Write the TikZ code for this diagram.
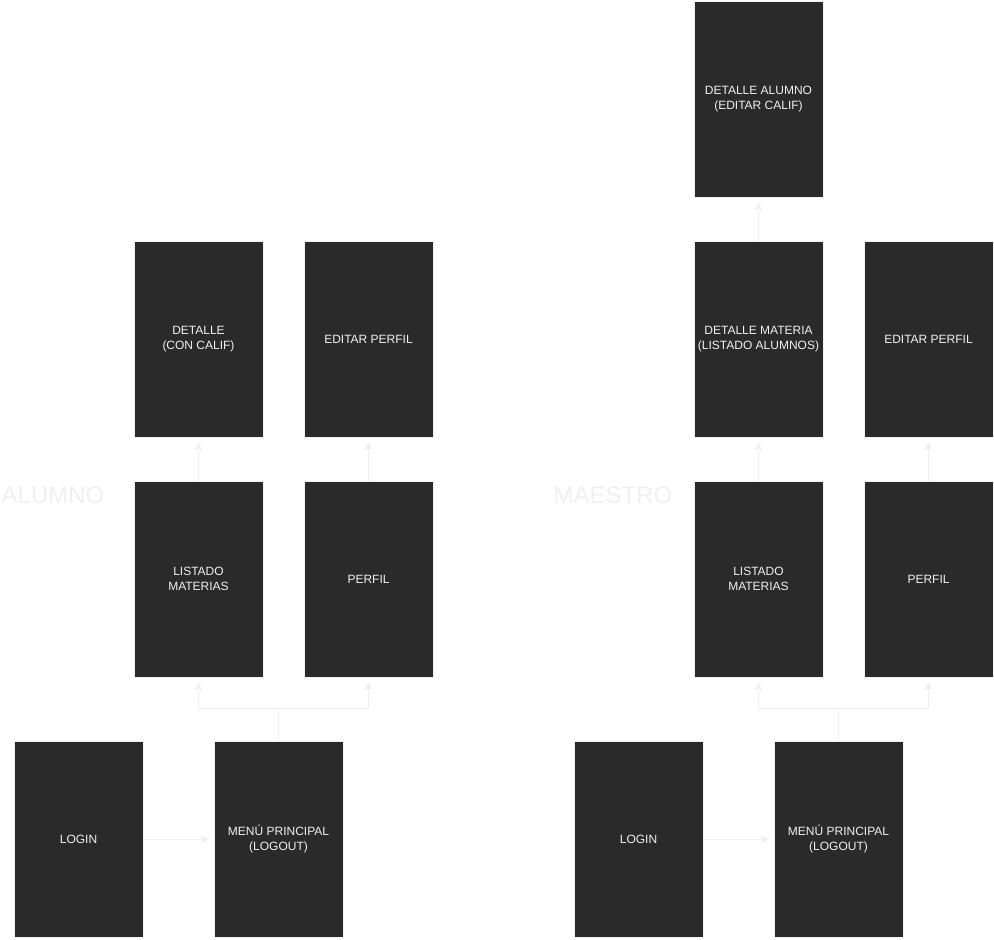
\documentclass[tikz,border=0pt]{standalone}
\usepackage{fontspec}
\setmainfont{Liberation Sans}
\usetikzlibrary{arrows.meta}
\definecolor{boxdark}{HTML}{2A2A2A}
\definecolor{softline}{HTML}{F0F0F0}

\begin{document}
\begin{tikzpicture}[x=0.75pt,y=0.75pt,yscale=-1,xscale=1,
  screen/.style={draw=softline, fill=boxdark, text=softline, line width=0.75pt,
    minimum width=96.75pt, minimum height=147pt, inner sep=0.75pt,
    align=center, font=\fontsize{9}{11.25}\selectfont},
  link/.style={draw=softline, line width=0.75pt, -{Stealth[length=7pt,width=6pt]}, shorten >=3pt},
  role/.style={text=softline, inner sep=0.75pt, font=\fontsize{18}{21}\selectfont}]
\useasboundingbox (0,0) rectangle (994,939);

% Text Node
\node (alumno) at (53,495) [role] {ALUMNO};
% Text Node
\node (maestro) at (613,495) [role] {MAESTRO};

% Screens alumno
\node (loginA) at (78.5,839) [screen] {LOGIN};
\node (menuA) at (278.5,839) [screen] {MENÚ PRINCIPAL\\(LOGOUT)};
\node (listadoA) at (198.5,579) [screen] {LISTADO\\MATERIAS};
\node (perfilA) at (368.5,579) [screen] {PERFIL};
\node (detalleA) at (198.5,339) [screen] {DETALLE\\(CON CALIF)};
\node (editarA) at (368.5,339) [screen] {EDITAR PERFIL};

% Screens maestro
\node (loginM) at (638.5,839) [screen] {LOGIN};
\node (menuM) at (838.5,839) [screen] {MENÚ PRINCIPAL\\(LOGOUT)};
\node (listadoM) at (758.5,579) [screen] {LISTADO\\MATERIAS};
\node (perfilM) at (928.5,579) [screen] {PERFIL};
\node (materiaM) at (758.5,339) [screen] {DETALLE MATERIA\\(LISTADO ALUMNOS)};
\node (editarM) at (928.5,339) [screen] {EDITAR PERFIL};
\node (alumnoM) at (758.5,99) [screen] {DETALLE ALUMNO\\(EDITAR CALIF)};

% Connectors alumno
\draw [link] (loginA) -- (menuA);
\draw [link] (menuA.north) -- ++(0,-32) -| (listadoA.south);
\draw [link] (menuA.north) -- ++(0,-32) -| (perfilA.south);
\draw [link] (listadoA) -- (detalleA);
\draw [link] (perfilA) -- (editarA);

% Connectors maestro
\draw [link] (loginM) -- (menuM);
\draw [link] (menuM.north) -- ++(0,-32) -| (listadoM.south);
\draw [link] (menuM.north) -- ++(0,-32) -| (perfilM.south);
\draw [link] (listadoM) -- (materiaM);
\draw [link] (perfilM) -- (editarM);
\draw [link] (materiaM) -- (alumnoM);

\end{tikzpicture}
\end{document}
